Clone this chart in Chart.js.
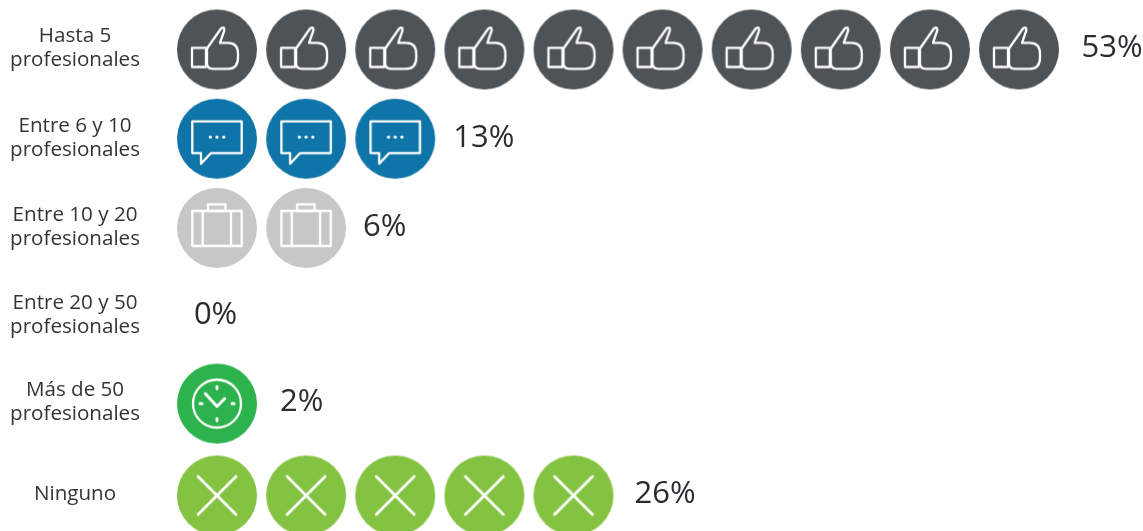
<!DOCTYPE html>
<html lang="es">
<head>
<meta charset="utf-8">
<style>html,body{margin:0;padding:0;background:#fff;overflow:hidden}#w{width:1143px;height:531px;position:relative}</style>
<script src="https://cdn.jsdelivr.net/npm/chart.js@4/dist/chart.umd.min.js"></script>
</head>
<body>
<div id="w"><canvas id="c"></canvas></div>
<script>
const categories = [["Hasta 5","profesionales"],["Entre 6 y 10","profesionales"],["Entre 10 y 20","profesionales"],["Entre 20 y 50","profesionales"],["Más de 50","profesionales"],"Ninguno"];
const percentages = [53,13,6,0,2,26];
const iconCounts = [10,3,2,0,1,5];
const rowColors = ["#4d5357","#0f75a8","#c6c8c6","#c6c8c6","#2db34e","#84c341"];
const rowIcons = ["thumb","chat","case","case","clock","cross"];
const rowPositions = [0,1,2,2.99,3.97,5];
const labelNudge = [62.5,58,57,66,63,61];

const glyphs = {
  thumb(g){
    g.strokeRect(-25,-1.7,14,19.2);
    g.beginPath();g.moveTo(-10,14);g.lineTo(-10,-1);g.lineTo(4,-21);
    g.quadraticCurveTo(7.8,-23.5,7.3,-19);g.lineTo(3,-6.7);g.lineTo(11,-6.7);
    g.quadraticCurveTo(21,-6.5,21,4);g.lineTo(21,8);g.quadraticCurveTo(21,19.3,11,19.3);
    g.lineTo(-4,19.3);g.quadraticCurveTo(-10,19.3,-10,14);g.stroke();
  },
  chat(g){
    g.beginPath();g.moveTo(-24.7,-17.3);g.lineTo(24.7,-17.3);g.lineTo(24.7,14.3);g.lineTo(-6,14.3);
    g.lineTo(-16,25);g.lineTo(-16,14.3);g.lineTo(-24.7,14.3);g.closePath();g.stroke();
    [-6.7,0,6.7].forEach(x=>{g.beginPath();g.arc(x,-1.7,1.6,0,7);g.fill();});
  },
  case(g){
    g.strokeRect(-24.7,-17,49.4,35);
    g.strokeRect(-9,-23.7,17.5,6.7);
    g.beginPath();g.moveTo(-14.3,-17);g.lineTo(-14.3,18);g.moveTo(14,-17);g.lineTo(14,18);g.stroke();
  },
  clock(g){
    g.beginPath();g.arc(0,0,24,0,7);g.stroke();
    g.lineCap="round";g.lineWidth=3;
    g.beginPath();g.moveTo(-11.7,-10);g.lineTo(0,2.7);g.lineTo(7.7,-5);g.stroke();
    [[0,-16],[0,16],[-16,0],[16,0]].forEach(([x,y])=>{
      g.beginPath();g.moveTo(x-(y?0:1),y-(y?1:0));g.lineTo(x+(y?0:1),y+(y?1:0));g.stroke();
    });
  },
  cross(g){
    g.lineCap="round";g.lineWidth=2.8;
    g.beginPath();g.moveTo(-19,-19);g.lineTo(19,19);g.moveTo(19,-19);g.lineTo(-19,19);g.stroke();
  }
};
function makeIcon(color,name){
  const cv=document.createElement("canvas");cv.width=82;cv.height=82;
  const g=cv.getContext("2d");
  g.translate(41,41);
  g.fillStyle=color;g.beginPath();g.arc(0,0,40,0,Math.PI*2);g.fill();
  g.strokeStyle="#fff";g.fillStyle="#fff";g.lineWidth=2.3;g.lineJoin="round";
  glyphs[name](g);
  return cv;
}
const datasets = categories.map((c,i)=>({
  label: Array.isArray(c)?c.join(" "):c,
  data: Array.from({length:iconCounts[i]},(_,k)=>({x:k+1,y:rowPositions[i]})),
  pointStyle: makeIcon(rowColors[i],rowIcons[i]),
  pointRadius: 40,
  clip: false
}));
const pctLabels = {
  id:"pctLabels",
  afterDatasetsDraw(ch){
    const {ctx,scales:{x,y}}=ch;
    ctx.save();
    ctx.font='31px "Open Sans"';ctx.fillStyle="#2b2b30";ctx.textAlign="left";ctx.textBaseline="middle";
    percentages.forEach((p,i)=>{
      ctx.fillText(p+"%",x.getPixelForValue(iconCounts[i])+labelNudge[i],y.getPixelForValue(rowPositions[i])-1);
    });
    ctx.restore();
  }
};
new Chart(document.getElementById("c"),{
  type:"scatter",
  data:{datasets},
  plugins:[pctLabels],
  options:{
    responsive:true,maintainAspectRatio:false,animation:false,
    layout:{autoPadding:false,padding:{top:49.5,bottom:35.5,left:0,right:124}},
    plugins:{legend:{display:false},tooltip:{enabled:false}},
    scales:{
      x:{type:"linear",display:false,min:1,max:10},
      y:{type:"linear",reverse:true,min:0,max:5,
        grid:{display:false,drawTicks:false},border:{display:false},
        afterBuildTicks(s){s.ticks=rowPositions.map(v=>({value:v}));},
        afterFit(s){s.width=217;s.paddingTop=0;s.paddingBottom=0;},
        ticks:{autoSkip:false,crossAlign:"center",padding:77,labelOffset:-1,color:"#333338",
          font:{family:'"Open Sans"',size:20.6,lineHeight:1.165},
          callback(v){return categories[rowPositions.indexOf(v)];}}
      }
    }
  }
});
</script>
</body>
</html>
